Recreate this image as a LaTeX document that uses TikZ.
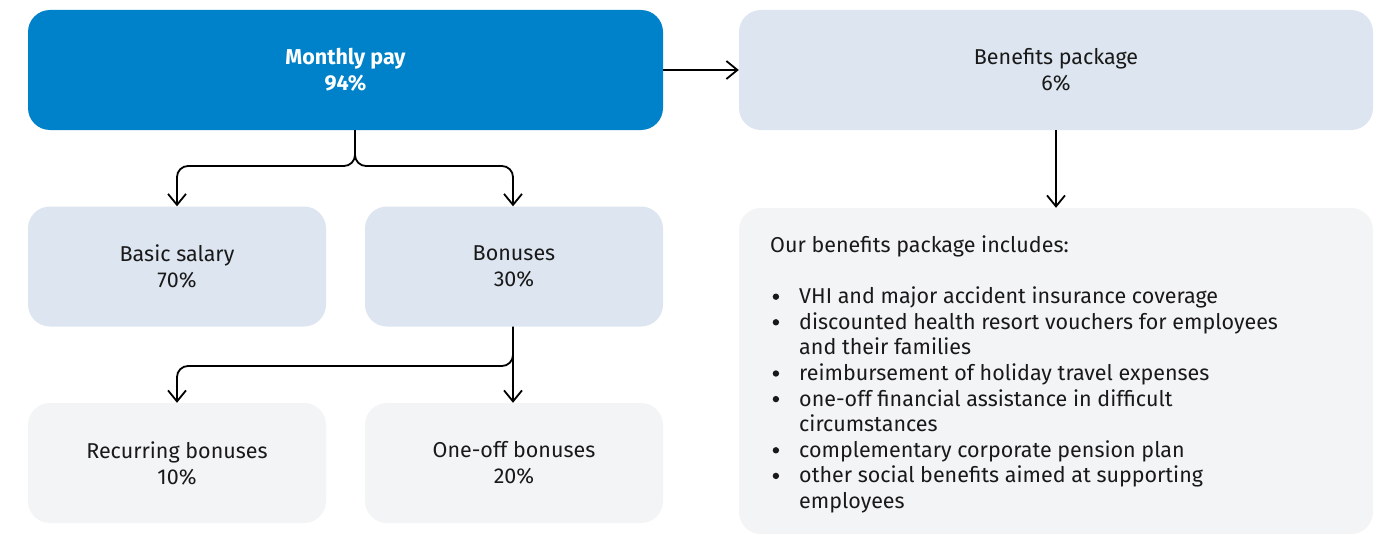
\documentclass[tikz,border=0pt]{standalone}
\usepackage{fontspec}
\setmainfont{Fira Sans}
\usetikzlibrary{arrows.meta}
\definecolor{mpblue}{HTML}{0082CA}
\definecolor{lightblue}{HTML}{DDE5F0}
\definecolor{lightgray}{HTML}{F3F4F6}
\tikzset{
  box/.style={rectangle, rounded corners=22pt, inner sep=0pt, align=center,
    font=\fontsize{21.5}{26}\selectfont, text=black!90},
  topbox/.style={box, fill=mpblue, text=white, font=\fontsize{21.5}{26}\selectfont\bfseries},
  midbox/.style={box, fill=lightblue},
  lowbox/.style={box, fill=lightgray},
  conn/.style={line width=1.8pt, rounded corners=11pt,
    -{Straight Barb[length=11pt,width=18pt]}},
}
\newcommand{\bitem}{\makebox[29pt][l]{\hspace*{2.5pt}\raisebox{3.7pt}{\tikz\fill[black!90,x=1pt,y=1pt] (0,0) circle (3.2pt);}}}
\newcommand{\bcont}{\hspace*{29pt}}
\begin{document}
\begin{tikzpicture}[x=1pt,y=-1pt]
\useasboundingbox (0,0) rectangle (1392,535);
\clip (0,0) rectangle (1392,535);
\fill[white] (0,0) rectangle (1392,535);
\node[topbox, minimum width=635pt, minimum height=120pt] (mp) at (345.5,70) {Monthly pay\\94\%};
\node[midbox, minimum width=634pt, minimum height=120pt] (bp) at (1056,70) {Benefits package\\6\%};
\node[midbox, minimum width=298pt, minimum height=120pt] (bs) at (177,266.5) {Basic salary\\70\%};
\node[midbox, minimum width=298pt, minimum height=120pt] (bo) at (514,266.5) {Bonuses\\30\%};
\node[lowbox, minimum width=298pt, minimum height=120pt] (rb) at (177,463) {Recurring bonuses\\10\%};
\node[lowbox, minimum width=298pt, minimum height=120pt] (oo) at (514,463) {One-off bonuses\\20\%};
\node[lowbox, minimum width=634pt, minimum height=326pt] (bl) at (1056,371) {};
\node[anchor=base west, inner sep=0pt, text=black!90] (lt) at (770,252) {\parbox[t]{580pt}{\fontsize{21.5}{25.6}\selectfont
Our benefits package includes:\\[26pt]
\bitem VHI and major accident insurance coverage\\
\bitem discounted health resort vouchers for employees\\
\bcont and their families\\
\bitem reimbursement of holiday travel expenses\\
\bitem one-off financial assistance in difficult\\
\bcont circumstances\\
\bitem complementary corporate pension plan\\
\bitem other social benefits aimed at supporting\\
\bcont employees}};
\coordinate (j1) at (355,166);
\coordinate (j2) at (513,366);
\draw[conn] (mp.south -| j1) -- (j1) -| (bs.north -| 177,0);
\draw[conn] (mp.south -| j1) -- (j1) -| (bo.north -| 513,0);
\draw[conn] (bo.south -| j2) -- (j2) -| (rb.north -| 177,0);
\draw[conn] (bo.south -| j2) -- (oo.north -| j2);
\draw[conn] (mp.east) -- (bp.west);
\draw[conn] (bp.south) -- (bl.north);
\end{tikzpicture}
\end{document}
